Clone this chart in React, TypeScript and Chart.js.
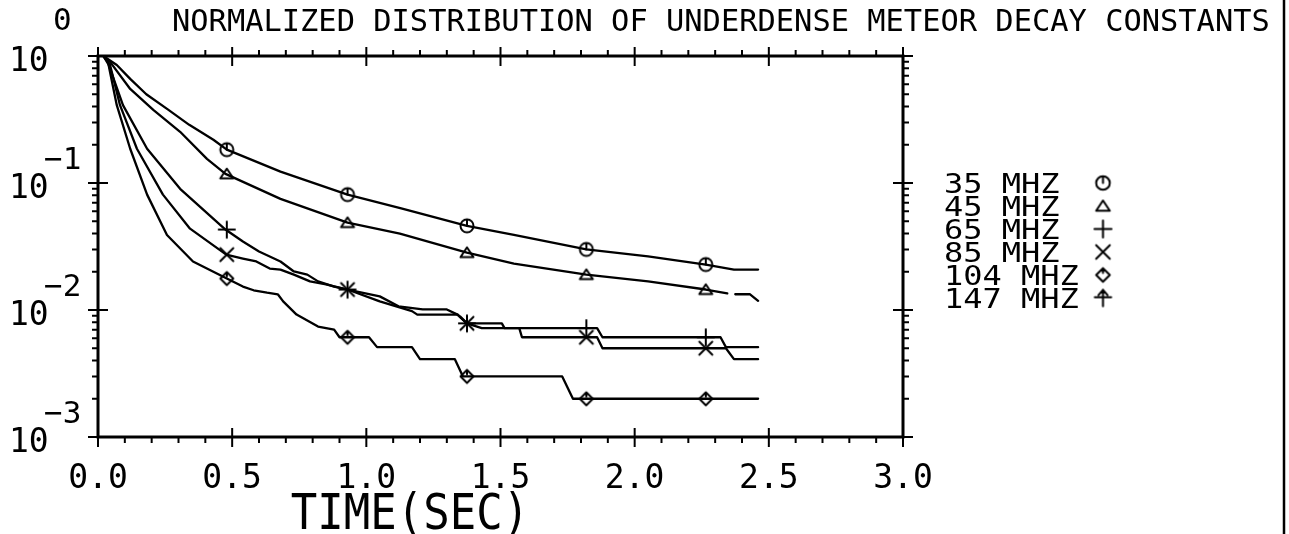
import React, { useEffect, useRef } from "react";
import { Chart, registerables } from "chart.js";

Chart.register(...registerables);

// ---------- texts ----------
const TITLE = "NORMALIZED DISTRIBUTION OF UNDERDENSE METEOR DECAY CONSTANTS";
const X_TITLE = "TIME(SEC)";
const X_TICKS = [0, 0.5, 1, 1.5, 2, 2.5, 3];
const X_TICK_LABELS = ["0.0", "0.5", "1.0", "1.5", "2.0", "2.5", "3.0"];
const Y_DECADES = [0, -1, -2, -3];
const LEGEND_LABELS = ["35 MHZ", "45 MHZ", "65 MHZ", "85 MHZ", "104 MHZ", "147 MHZ"];
const LEGEND_SYMBOLS = ["circ", "tri", "plus", "cross", "diam", "arrow"];

// ---------- curves (time in s, normalized count) ----------
const t35 = [0.02, 0.07, 0.12, 0.18, 0.26, 0.34, 0.43, 0.48, 0.68, 0.93, 1.13, 1.375, 1.55, 1.82, 2.05, 2.265, 2.37, 2.46];
const v35 = [1.0, 0.85, 0.66, 0.5, 0.38, 0.287, 0.219, 0.183, 0.123, 0.081, 0.063, 0.046, 0.039, 0.03, 0.0264, 0.0228, 0.0208, 0.0208];

const t45 = [0.02, 0.045, 0.12, 0.206, 0.306, 0.406, 0.475, 0.68, 0.93, 1.125, 1.375, 1.55, 1.82, 2.05, 2.265, 2.345, 2.36, 2.375, 2.43, 2.46];
const v45 = [1.0, 0.9, 0.55, 0.377, 0.253, 0.155, 0.118, 0.075, 0.0488, 0.04, 0.0283, 0.0232, 0.019, 0.0168, 0.0145, 0.0135, null, 0.0133, 0.0133, 0.0118];

const t65 = [0.02, 0.04, 0.093, 0.183, 0.306, 0.475, 0.54, 0.6, 0.68, 0.73, 0.78, 0.82, 0.88, 0.93, 1.05, 1.12, 1.21, 1.3, 1.34, 1.375, 1.505, 1.515, 1.86, 1.88, 2.32, 2.34, 2.46];
const v65 = [1.0, 0.85, 0.41, 0.186, 0.09, 0.043, 0.0346, 0.0289, 0.0241, 0.0201, 0.019, 0.0168, 0.0153, 0.0145, 0.0128, 0.0107, 0.0101, 0.0101, 0.0092, 0.00785, 0.00785, 0.0072, 0.0072, 0.0061, 0.0061, 0.0051, 0.0051];

const t85 = [0.02, 0.045, 0.082, 0.145, 0.242, 0.343, 0.478, 0.54, 0.59, 0.64, 0.68, 0.73, 0.79, 0.85, 0.93, 1.05, 1.17, 1.19, 1.34, 1.375, 1.43, 1.57, 1.58, 1.86, 1.88, 2.34, 2.37, 2.46];
const v85 = [1.0, 0.85, 0.41, 0.186, 0.081, 0.0437, 0.0273, 0.0254, 0.0241, 0.0212, 0.0208, 0.019, 0.0168, 0.0159, 0.0145, 0.0117, 0.0098, 0.0092, 0.0092, 0.00785, 0.0072, 0.0072, 0.0061, 0.0061, 0.005, 0.005, 0.0041, 0.0041];

const t104 = [0.02, 0.037, 0.07, 0.12, 0.183, 0.257, 0.354, 0.48, 0.54, 0.58, 0.63, 0.67, 0.69, 0.74, 0.82, 0.88, 0.9, 1.01, 1.04, 1.17, 1.2, 1.33, 1.36, 1.73, 1.77, 2.46];
const v104 = [1.0, 0.9, 0.41, 0.186, 0.081, 0.039, 0.0241, 0.0177, 0.0153, 0.0143, 0.0137, 0.0133, 0.0117, 0.0092, 0.0074, 0.007, 0.0061, 0.0061, 0.0051, 0.0051, 0.0041, 0.0041, 0.003, 0.003, 0.002, 0.002];

// ---------- symbol markers ----------
const MARKER_T = [0.48, 0.93, 1.375, 1.82, 2.265];
const m35 = [0.183, 0.081, 0.046, 0.03, 0.0228];
const m45 = [0.118, 0.0488, 0.0283, 0.019, 0.0145];
const m65 = [0.043, 0.0145, 0.00785, 0.0072, 0.0061];
const m85 = [0.0273, 0.0145, 0.00785, 0.0061, 0.005];
const m104 = [0.0177, 0.0061, 0.003, 0.002, 0.002];

const MONO = '"DejaVu Sans Mono", "Liberation Mono", monospace';

function makeSymbol(kind: string, scale: number): HTMLCanvasElement {
  const s = Math.round(24 * scale);
  const c = document.createElement("canvas");
  c.width = s;
  c.height = s;
  const g = c.getContext("2d")!;
  g.strokeStyle = "#000";
  g.lineWidth = 2;
  g.lineCap = "round";
  g.lineJoin = "round";
  const m = s / 2;
  const r = 6.5 * scale;
  g.beginPath();
  if (kind === "circ") {
    g.arc(m, m, r, 0, Math.PI * 2);
    g.moveTo(m, m);
    g.lineTo(m, m - r);
  } else if (kind === "tri") {
    g.moveTo(m - r, m + r * 0.7);
    g.lineTo(m + r, m + r * 0.7);
    g.lineTo(m, m - r * 0.8);
    g.closePath();
  } else if (kind === "plus") {
    const a = r * 1.25;
    g.moveTo(m - a, m);
    g.lineTo(m + a, m);
    g.moveTo(m, m - a);
    g.lineTo(m, m + a);
  } else if (kind === "cross") {
    const a = r * 1.0;
    g.moveTo(m - a, m - a);
    g.lineTo(m + a, m + a);
    g.moveTo(m + a, m - a);
    g.lineTo(m - a, m + a);
  } else if (kind === "diam") {
    g.moveTo(m, m - r);
    g.lineTo(m + r, m);
    g.lineTo(m, m + r);
    g.lineTo(m - r, m);
    g.closePath();
    g.moveTo(m, m - r);
    g.lineTo(m, m - r * 0.3);
  } else if (kind === "arrow") {
    const a = r * 1.2;
    g.moveTo(m, m - a);
    g.lineTo(m, m + a);
    g.moveTo(m - a, m - a * 0.1);
    g.lineTo(m + a, m - a * 0.1);
    g.moveTo(m - a * 0.55, m - a * 0.35);
    g.lineTo(m, m - a);
    g.lineTo(m + a * 0.55, m - a * 0.35);
  }
  g.stroke();
  return c;
}

function pts(t: number[], v: (number | null)[]) {
  return t.map((x, i) => ({ x, y: v[i] }));
}

function capText(ctx: CanvasRenderingContext2D, text: string, x: number, yCenter: number, size: number, align: CanvasTextAlign = "left", sy = 1) {
  ctx.save();
  ctx.font = `${size}px ${MONO}`;
  ctx.textAlign = align;
  ctx.textBaseline = "alphabetic";
  ctx.translate(x, yCenter);
  ctx.scale(1, sy);
  ctx.fillText(text, 0, 0.365 * size);
  ctx.restore();
}

export default function App() {
  const ref = useRef<HTMLCanvasElement | null>(null);

  useEffect(() => {
    document.body.style.margin = "0";
    const canvas = ref.current!;
    const sym: Record<string, HTMLCanvasElement> = {};
    const symBig: Record<string, HTMLCanvasElement> = {};
    LEGEND_SYMBOLS.forEach((k) => {
      sym[k] = makeSymbol(k, 1);
      symBig[k] = makeSymbol(k, 1.05);
    });

    const lineDs = (label: string, t: number[], v: (number | null)[]) => ({
      type: "line" as const,
      label,
      data: pts(t, v),
      borderColor: "#000",
      borderWidth: 2.3,
      pointRadius: 0,
      tension: 0,
      spanGaps: false,
      borderJoinStyle: "round" as const,
      borderCapStyle: "round" as const,
    });
    const markDs = (label: string, v: number[], k: string) => ({
      type: "line" as const,
      label,
      data: pts(MARKER_T, v),
      showLine: false,
      pointStyle: sym[k],
      pointRadius: 8,
      borderColor: "#000",
      backgroundColor: "#000",
    });

    const decor = {
      id: "decor",
      afterDraw(chart: any) {
        const ctx: CanvasRenderingContext2D = chart.ctx;
        const { left, right, top, bottom } = chart.chartArea;
        const xs = chart.scales.x;
        const ys = chart.scales.y;
        ctx.save();
        ctx.strokeStyle = "#000";
        ctx.fillStyle = "#000";
        ctx.lineCap = "butt";
        // frame
        ctx.lineWidth = 3;
        ctx.strokeRect(left, top, right - left, bottom - top);
        // x ticks
        ctx.lineWidth = 2;
        for (let i = 0; i <= 30; i++) {
          const px = xs.getPixelForValue(i / 10);
          ctx.beginPath();
          if (i % 5 === 0) {
            ctx.moveTo(px, bottom - 9);
            ctx.lineTo(px, bottom + 10);
            ctx.moveTo(px, top - 9);
            ctx.lineTo(px, top + 10);
          } else {
            ctx.moveTo(px, bottom);
            ctx.lineTo(px, bottom + 6);
            ctx.moveTo(px, top);
            ctx.lineTo(px, top - 6);
          }
          ctx.stroke();
        }
        // y ticks
        Y_DECADES.forEach((d) => {
          const py = ys.getPixelForValue(Math.pow(10, d));
          ctx.beginPath();
          ctx.moveTo(left - 10, py);
          ctx.lineTo(left + 10, py);
          ctx.moveTo(right - 10, py);
          ctx.lineTo(right + 10, py);
          ctx.stroke();
          if (d > -3) {
            for (let m = 2; m <= 9; m++) {
              const pm = ys.getPixelForValue(m * Math.pow(10, d - 1));
              ctx.beginPath();
              ctx.moveTo(left - 6, pm);
              ctx.lineTo(left, pm);
              ctx.moveTo(right, pm);
              ctx.lineTo(right + 6, pm);
              ctx.stroke();
            }
          }
        });
        // x tick labels
        X_TICKS.forEach((v, i) => {
          capText(ctx, X_TICK_LABELS[i], xs.getPixelForValue(v), 476, 33, "center");
        });
        // y tick labels 10^k
        Y_DECADES.forEach((d) => {
          const py = ys.getPixelForValue(Math.pow(10, d));
          capText(ctx, "10", 9, py + 3, 33, "left");
          if (d === 0) capText(ctx, "0", 53, py - 37, 31, "left");
          else capText(ctx, "\u2212" + Math.abs(d), 44, py - 25, 31, "left");
        });
        // titles
        capText(ctx, TITLE, 172, 20, 30.4, "left");
        capText(ctx, X_TITLE, 410, 511, 44, "center", 1.15);
        // legend
        LEGEND_LABELS.forEach((lab, i) => {
          const yc = 183 + i * 23;
          capText(ctx, lab, 944, yc, 32, "left", 0.85);
          const s = symBig[LEGEND_SYMBOLS[i]];
          ctx.drawImage(s, 1103 - s.width / 2, yc - s.height / 2);
        });
        // page border line on the right
        ctx.lineWidth = 2.5;
        ctx.beginPath();
        ctx.moveTo(1284, 0);
        ctx.lineTo(1284, 534);
        ctx.stroke();
        ctx.restore();
      },
    };

    const chart = new Chart(canvas, {
      type: "line",
      data: {
        datasets: [
          lineDs("35 MHZ", t35, v35),
          lineDs("45 MHZ", t45, v45),
          lineDs("65 MHZ", t65, v65),
          lineDs("85 MHZ", t85, v85),
          lineDs("104 MHZ", t104, v104),
          markDs("35 MHZ marks", m35, "circ"),
          markDs("45 MHZ marks", m45, "tri"),
          markDs("65 MHZ marks", m65, "plus"),
          markDs("85 MHZ marks", m85, "cross"),
          markDs("104 MHZ marks", m104, "diam"),
        ] as any,
      },
      options: {
        responsive: false,
        devicePixelRatio: 1,
        animation: false,
        layout: { padding: { left: 98, top: 56, right: 386, bottom: 97 } },
        plugins: { legend: { display: false }, tooltip: { enabled: false } },
        scales: {
          x: { type: "linear", min: 0, max: 3, display: false },
          y: { type: "logarithmic", min: 0.001, max: 1, display: false },
        },
      },
      plugins: [decor],
    });
    return () => chart.destroy();
  }, []);

  return (
    <div style={{ width: 1289, height: 534, background: "#fff" }}>
      <canvas ref={ref} width={1289} height={534} style={{ display: "block" }} />
    </div>
  );
}
